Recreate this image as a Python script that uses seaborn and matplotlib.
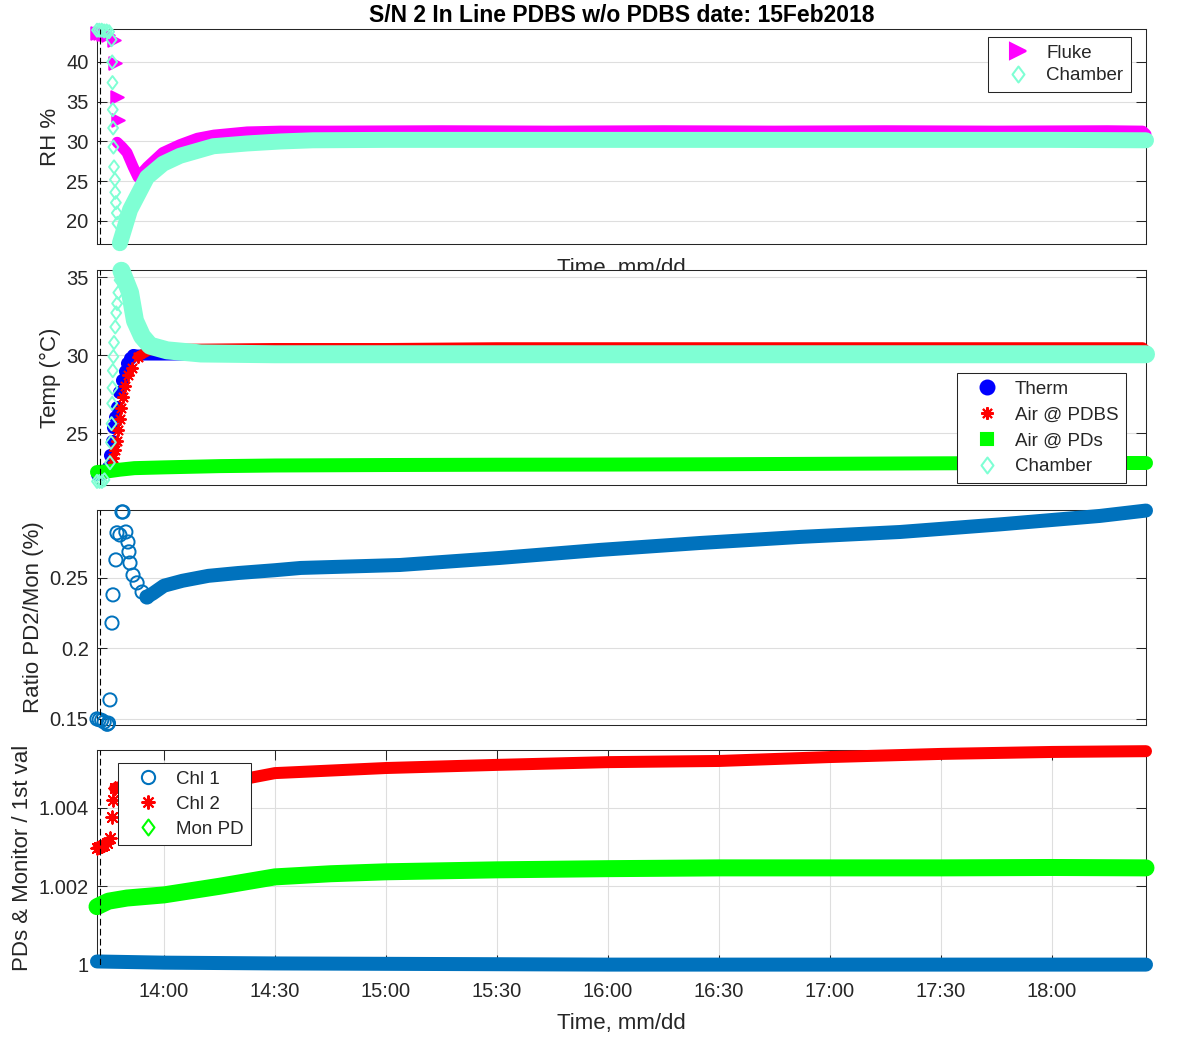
import numpy as np
import pandas as pd
import matplotlib
matplotlib.use("Agg")
import matplotlib.pyplot as plt
import matplotlib.dates as mdates
from matplotlib.lines import Line2D
from matplotlib.path import Path
from matplotlib.markers import MarkerStyle
import seaborn as sns

DAY = "2018-02-15 "
X_START, X_END = "13:41:54", "18:25:24"
START_MARK = "13:42:42"

# ---- RH panel ----
fluke_pts_time = ["13:41:54", "13:42:40", "13:43:25", "13:44:10", "13:44:55",
                  "13:46:30", "13:46:50", "13:47:20", "13:47:35"]
fluke_pts_rh = [43.6, 43.6, 43.5, 43.5, 43.4, 42.8, 39.9, 35.6, 32.7]
fluke_time = ["13:47:20", "13:48:40", "13:50:00", "13:51:40", "13:53:00", "13:55:30",
              "13:59:40", "14:04:20", "14:09:00", "14:13:30", "14:22:30", "14:31:30",
              "14:45:00", "15:15:00", "15:45:00", "16:15:00", "16:45:00", "17:15:00",
              "17:45:00", "18:15:00", "18:24:30", "18:25:24"]
fluke_rh = [29.9, 29.3, 28.6, 26.8, 25.5, 26.8, 28.6, 29.6, 30.4, 30.8, 31.2, 31.3,
            31.3, 31.35, 31.3, 31.35, 31.3, 31.35, 31.3, 31.35, 31.3, 30.9]

rh_chamber_pts_time = ["13:41:54", "13:42:30", "13:43:10", "13:43:50", "13:44:30",
                       "13:45:10", "13:45:50", "13:46:00", "13:46:05", "13:46:10",
                       "13:46:15", "13:46:20", "13:46:30", "13:46:45", "13:46:50",
                       "13:47:00", "13:47:15", "13:47:25"]
rh_chamber_pts = [44.0, 44.0, 44.0, 43.9, 43.9, 43.8, 42.8, 40.0, 37.4, 34.0,
                  31.7, 29.3, 26.8, 25.2, 23.6, 22.3, 21.0, 19.7]
rh_chamber_time = ["13:48:05", "13:50:50", "13:55:25", "13:59:45", "14:04:20",
                   "14:13:20", "14:22:30", "14:31:30", "14:40:15", "15:00:00",
                   "15:30:00", "16:00:00", "16:30:00", "17:00:00", "17:30:00",
                   "18:00:00", "18:25:24"]
rh_chamber = [17.2, 21.4, 25.5, 27.2, 28.2, 29.4, 29.75, 30.0, 30.15, 30.2,
              30.2, 30.2, 30.2, 30.2, 30.2, 30.2, 30.15]

# ---- Temperature panel ----
therm_pts_time = ["13:41:54", "13:42:40", "13:43:30", "13:44:20", "13:44:55", "13:45:30",
                  "13:45:57", "13:46:13", "13:46:47", "13:47:18", "13:47:50", "13:48:39",
                  "13:49:20", "13:50:00", "13:50:50", "13:51:38"]
therm_pts = [22.4, 22.4, 22.5, 22.6, 22.8, 23.6, 24.5, 25.4, 26.0, 26.7, 27.6, 28.4,
             29.0, 29.5, 29.8, 30.0]
therm_time = ["13:51:38", "14:00:00", "15:00:00", "16:00:00", "17:00:00", "18:00:00",
              "18:25:24"]
therm = [30.0, 30.0, 30.05, 30.05, 30.05, 30.05, 30.0]

pdbs_pts_time = ["13:41:54", "13:43:00", "13:44:10", "13:45:30", "13:46:00", "13:46:15",
                 "13:46:45", "13:47:15", "13:47:40", "13:48:00", "13:48:20", "13:48:50",
                 "13:49:30", "13:50:20", "13:51:20", "13:53:00"]
pdbs_pts = [22.5, 22.5, 22.5, 22.6, 22.9, 23.4, 23.9, 24.5, 25.2, 25.9, 26.6, 27.3,
            28.0, 28.7, 29.2, 29.9]
pdbs_time = ["13:53:00", "13:56:00", "14:05:00", "14:30:00", "15:00:00", "15:30:00",
             "16:00:00", "16:30:00", "17:00:00", "17:30:00", "18:00:00", "18:24:30",
             "18:25:24"]
pdbs = [29.9, 30.3, 30.4, 30.45, 30.45, 30.5, 30.5, 30.5, 30.5, 30.5, 30.5, 30.5, 30.3]

pds_time = ["13:41:54", "13:45:00", "13:48:00", "13:52:00", "14:00:00", "14:15:00",
            "14:30:00", "15:00:00", "15:30:00", "16:00:00", "16:30:00", "17:00:00",
            "17:30:00", "18:00:00", "18:25:24"]
pds = [22.5, 22.55, 22.65, 22.75, 22.8, 22.88, 22.92, 22.95, 22.97, 22.98, 23.0,
       23.03, 23.06, 23.08, 23.08]

t_chamber_pts_time = ["13:41:54", "13:42:35", "13:43:15", "13:43:55", "13:45:24",
                      "13:45:40", "13:45:50", "13:46:00", "13:46:05", "13:46:10",
                      "13:46:20", "13:46:30", "13:46:50", "13:47:05", "13:47:20",
                      "13:47:40", "13:48:00", "13:48:20"]
t_chamber_pts = [21.9, 21.9, 21.9, 22.0, 23.1, 24.4, 25.6, 26.9, 27.9, 29.0,
                 29.9, 30.8, 31.8, 32.7, 33.3, 34.0, 34.8, 35.4]
t_chamber_time = ["13:48:30", "13:50:50", "13:52:10", "13:54:05", "13:56:15", "14:00:50",
                  "14:10:00", "14:30:00", "15:00:00", "15:30:00", "16:00:00", "16:30:00",
                  "17:00:00", "17:30:00", "18:00:00", "18:25:24"]
t_chamber = [35.4, 34.0, 32.2, 31.2, 30.6, 30.3, 30.1, 30.05, 30.05, 30.05, 30.05,
             30.05, 30.05, 30.05, 30.05, 30.05]

# ---- Ratio panel ----
ratio_pts_time = ["13:41:54", "13:42:30", "13:43:10", "13:43:50", "13:44:40", "13:45:00",
                  "13:45:24", "13:45:57", "13:46:13", "13:47:00", "13:47:18", "13:48:05",
                  "13:48:39", "13:48:55", "13:49:42", "13:50:16", "13:50:32", "13:50:49",
                  "13:51:38", "13:52:44", "13:54:05", "13:55:24"]
ratio_pts = [0.1500, 0.1495, 0.1490, 0.1478, 0.1462, 0.1470, 0.1635, 0.2180, 0.2380,
             0.2628, 0.2820, 0.2805, 0.2968, 0.2968, 0.2826, 0.2755, 0.2685, 0.2606,
             0.2520, 0.2465, 0.2400, 0.2365]
ratio_time = ["13:55:24", "13:57:00", "14:00:00", "14:05:00", "14:12:00", "14:20:00",
              "14:30:00", "14:37:00", "15:03:47", "15:30:49", "15:57:50", "16:24:52",
              "16:51:53", "17:18:55", "17:45:57", "18:12:58", "18:25:24"]
ratio = [0.2365, 0.2390, 0.2445, 0.2480, 0.2515, 0.2535, 0.2555, 0.2571, 0.2592,
         0.2642, 0.2699, 0.2748, 0.2791, 0.2826, 0.2880, 0.2940, 0.2978]

# ---- PDs & monitor panel ----
chl1_time = ["13:41:54", "14:00:00", "14:30:00", "15:00:00", "15:30:00", "16:00:00",
             "16:30:00", "17:00:00", "17:30:00", "18:00:00", "18:25:24"]
chl1 = [1.00008, 1.00005, 1.00003, 1.00002, 1.00001, 1.0, 1.0, 1.0, 1.0, 1.0, 1.0]

chl2_pts_time = ["13:41:54", "13:42:30", "13:43:10", "13:43:50", "13:44:30",
                 "13:45:24", "13:45:57", "13:46:13", "13:46:47"]
chl2_pts = [1.00298, 1.00300, 1.00302, 1.00305, 1.00310, 1.00324, 1.00377, 1.00420,
            1.00450]
chl2_time = ["13:46:47", "13:50:00", "14:00:00", "14:10:00", "14:20:00", "14:30:00",
             "15:00:00", "15:30:00", "16:00:00", "16:30:00", "17:00:00", "17:30:00",
             "18:00:00", "18:25:24"]
chl2 = [1.00450, 1.00458, 1.00463, 1.00467, 1.00471, 1.00489, 1.00502, 1.00510,
        1.00517, 1.00520, 1.00530, 1.00538, 1.00543, 1.00545]

mon_time = ["13:41:54", "13:45:00", "13:50:00", "14:00:00", "14:15:00", "14:30:00",
            "14:45:00", "15:00:00", "15:30:00", "16:00:00", "16:30:00", "17:00:00",
            "17:30:00", "18:00:00", "18:25:24"]
mon = [1.00148, 1.00162, 1.00170, 1.00178, 1.00200, 1.00224, 1.00232, 1.00237,
       1.00242, 1.00245, 1.00247, 1.00247, 1.00247, 1.00248, 1.00247]

TITLE = "S/N 2 In Line PDBS w/o PDBS date: 15Feb2018"

MAGENTA = "#FF00FF"
AQUA = "#7FFFD4"
BLUE = "#0000FF"
RED = "#FF0000"
GREEN = "#00FF00"
MBLUE = "#0072BD"
INK = "#262626"

sns.set_style("white")
plt.rcParams["font.family"] = ["Liberation Sans", "DejaVu Sans"]
plt.rcParams["axes.edgecolor"] = INK
plt.rcParams["axes.linewidth"] = 0.75

# MATLAB-like diamond, a bit taller than wide
DIAMOND = MarkerStyle(Path([(0, 1), (0.75, 0), (0, -1), (-0.75, 0), (0, 1)],
                           [Path.MOVETO, Path.LINETO, Path.LINETO, Path.LINETO,
                            Path.CLOSEPOLY]))
ASTER = (8, 2, 0)


def ts(times):
    return pd.to_datetime([DAY + t for t in times])


def band(ax, times, vals, color, width_px, z):
    sns.lineplot(x=ts(times), y=vals, ax=ax, color=color, linewidth=width_px * 0.72,
                 estimator=None, sort=False, clip_on=False, zorder=z,
                 solid_capstyle="round", solid_joinstyle="round", legend=False)


def dots(ax, times, vals, color, marker, size_pt, filled, z, lw=1.4):
    sns.scatterplot(x=ts(times), y=vals, ax=ax, marker=marker, s=size_pt ** 2,
                    color=color, facecolor=color if filled else "none",
                    edgecolor=color, linewidth=lw, clip_on=False, zorder=z,
                    legend=False)


def legend(ax, entries, loc, anchor, spacing):
    handles = []
    for label, marker, color, filled, ms in entries:
        handles.append(Line2D([], [], linestyle="none", marker=marker, markersize=ms,
                              color=color, markeredgecolor=color, markeredgewidth=1.5,
                              markerfacecolor=color if filled else "none", label=label))
    leg = ax.legend(handles=handles, loc=loc, bbox_to_anchor=anchor, fontsize=13.5,
                    frameon=True, fancybox=False, framealpha=1, edgecolor=INK,
                    borderaxespad=0, handlelength=2.4, handletextpad=0.3,
                    labelspacing=spacing, borderpad=0.4)
    leg.get_frame().set_linewidth(0.75)
    leg.set_zorder(20)


fig = plt.figure(figsize=(12, 10.5), dpi=100)
L, W, H = 97 / 1200, 1049 / 1200, 215 / 1050
bottoms = [1 - 244 / 1050, 1 - 485 / 1050, 1 - 725 / 1050, 1 - 965 / 1050]
axes = [fig.add_axes([L, b, W, H]) for b in bottoms]
ax1, ax2, ax3, ax4 = axes

# RH
dots(ax1, fluke_pts_time, fluke_pts_rh, MAGENTA, ">", 9, True, 3)
band(ax1, fluke_time, fluke_rh, MAGENTA, 11, 3)
dots(ax1, rh_chamber_pts_time, rh_chamber_pts, AQUA, DIAMOND, 9.5, False, 4)
band(ax1, rh_chamber_time, rh_chamber, AQUA, 16, 4)
ax1.set_ylim(17.1, 44.15)
ax1.set_yticks([20, 25, 30, 35, 40])
ax1.set_ylabel("RH %")
ax1.set_title(TITLE, fontsize=16.5, fontweight="bold", color="black", pad=5)
ax1.set_xlabel("Time, mm/dd", labelpad=10)
legend(ax1, [("Fluke", ">", MAGENTA, True, 11), ("Chamber", DIAMOND, AQUA, False, 11.5)],
       "upper right", (0.9857, 0.963), 0.3)

# Temperature
dots(ax2, therm_pts_time, therm_pts, BLUE, "o", 8, True, 3)
band(ax2, therm_time, therm, BLUE, 11, 3)
# asterisks are unfilled markers: scatter takes their colour from the face
dots(ax2, pdbs_pts_time, pdbs_pts, RED, ASTER, 8, True, 4)
band(ax2, pdbs_time, pdbs, RED, 10, 4)
band(ax2, pds_time, pds, GREEN, 14, 5)
dots(ax2, t_chamber_pts_time, t_chamber_pts, AQUA, DIAMOND, 9.5, False, 6)
band(ax2, t_chamber_time, t_chamber, AQUA, 18, 6)
ax2.set_ylim(21.67, 35.45)
ax2.set_yticks([25, 30, 35])
ax2.set_ylabel("Temp (°C)")
ax2.set_xlabel("")
legend(ax2, [("Therm", "o", BLUE, True, 10), ("Air @ PDBS", ASTER, RED, False, 9),
             ("Air @ PDs", "s", GREEN, True, 8), ("Chamber", DIAMOND, AQUA, False, 11.5)],
       "upper right", (0.981, 0.521), 0.47)

# Ratio
dots(ax3, ratio_pts_time, ratio_pts, MBLUE, "o", 9.5, False, 3)
band(ax3, ratio_time, ratio, MBLUE, 14, 3)
ax3.set_ylim(0.1457, 0.2982)
ax3.set_yticks([0.15, 0.2, 0.25])
ax3.set_yticklabels(["0.15", "0.2", "0.25"])
ax3.set_ylabel("Ratio PD2/Mon (%)")
ax3.set_xlabel("")

# PDs & monitor
band(ax4, chl1_time, chl1, MBLUE, 14, 3)
dots(ax4, chl2_pts_time, chl2_pts, RED, ASTER, 9, True, 4)
band(ax4, chl2_time, chl2, RED, 12, 4)
band(ax4, mon_time, mon, GREEN, 17, 5)
ax4.set_ylim(0.99999, 1.00548)
ax4.set_yticks([1.0, 1.002, 1.004])
ax4.set_yticklabels(["1", "1.002", "1.004"])
ax4.set_ylabel("PDs & Monitor / 1st val")
ax4.set_xlabel("Time, mm/dd", labelpad=9)
legend(ax4, [("Chl 1", "o", MBLUE, False, 9.5), ("Chl 2", ASTER, RED, False, 10),
             ("Mon PD", DIAMOND, GREEN, False, 11.5)],
       "upper left", (0.02, 0.94), 0.42)

x0, x1 = ts([X_START, X_END])
mark = ts([START_MARK])[0]
for i, ax in enumerate(axes):
    ax.set_facecolor("white")
    ax.set_xlim(x0, x1)
    ax.axvline(mark, color="black", linestyle=(0, (6, 3)), linewidth=0.8, zorder=8)
    ax.grid(axis="y", color="#DEDEDE", linewidth=0.8)
    ax.set_axisbelow(True)
    ax.tick_params(axis="y", direction="in", length=7, width=0.75, labelsize=14.5,
                   colors=INK, left=True, right=True, pad=6)
    ax.yaxis.label.set_size(16)
    ax.yaxis.label.set_color(INK)
    ax.xaxis.label.set_size(16)
    ax.xaxis.label.set_color(INK)
    for sp in ax.spines.values():
        sp.set_visible(True)
        sp.set_color(INK)
        sp.set_linewidth(0.75)
    if i < 3:
        ax.set_xticks([])

ax4.xaxis.set_major_locator(mdates.MinuteLocator(byminute=[0, 30]))
ax4.xaxis.set_major_formatter(mdates.DateFormatter("%H:%M"))
ax4.grid(axis="x", color="#DEDEDE", linewidth=0.8)
ax4.tick_params(axis="x", direction="in", length=7, width=0.75, labelsize=14.5,
                colors=INK, top=True, bottom=True, pad=12)

fig.savefig("out.png", dpi=100, facecolor="white")
